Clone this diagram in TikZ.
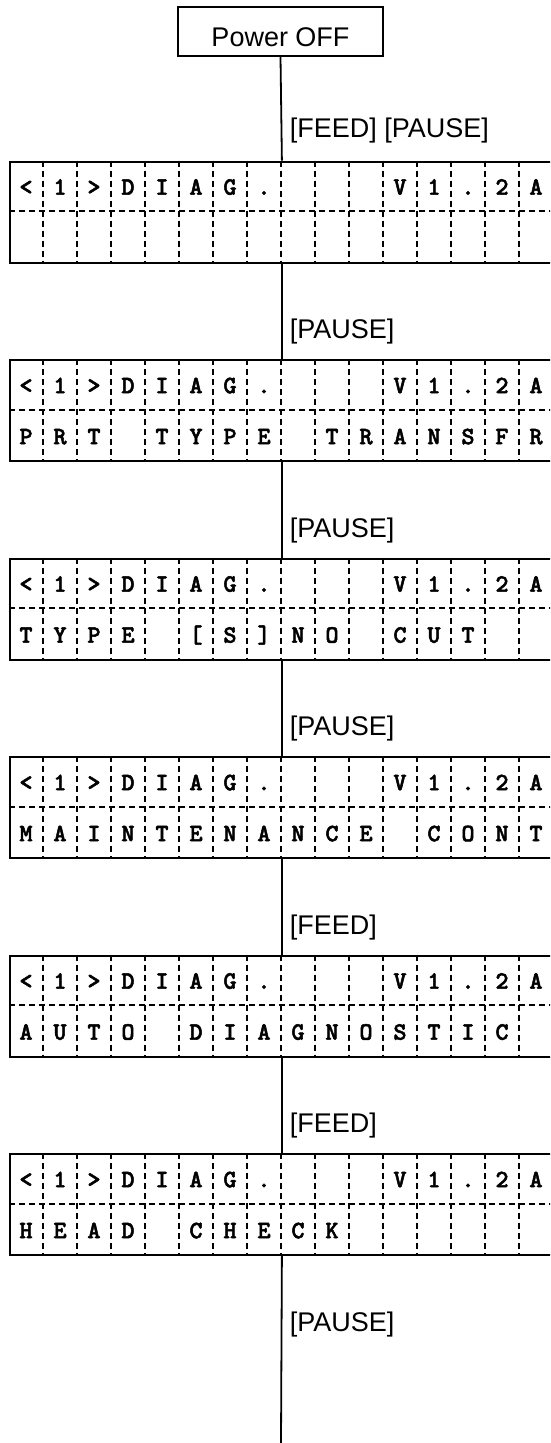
\documentclass[tikz,border=0pt]{standalone}
\usepackage{fontspec}
\setmainfont{Liberation Sans}
\newfontfamily\lcdfont{lmmonolt10-bold.otf}[FakeBold=2]
\newcommand{\lcdrow}[2]{%
  \foreach \c [count=\n from 0] in {#2}{
    \node[lcdchar] at (26+34*\n,#1) {\c};
  }}
\begin{document}
\begin{tikzpicture}[x=1pt,y=-1pt,line width=1.8pt,
  lcdbox/.style={draw,line width=1.8pt,minimum width=544pt,minimum height=101pt,inner sep=0pt,anchor=north west},
  keylabel/.style={font=\fontsize{27}{30}\selectfont,anchor=base west,inner sep=0pt},
  lcdchar/.style={font=\lcdfont\fontsize{25}{28}\selectfont,anchor=base,inner sep=0pt},
  celldash/.style={line width=1.6pt,dash pattern=on 6pt off 4pt},
  flow/.style={line width=1.8pt}]
\clip (0,0) rectangle (550,1443);
\fill[white] (0,0) rectangle (550,1443);
\node[draw,line width=1.8pt,minimum width=205pt,minimum height=49pt,inner sep=0pt,
  text height=30.4pt,text depth=0pt,font=\fontsize{27}{30}\selectfont] (power) at (280.5,31.5) {Power OFF};
\foreach \i/\t in {1/160.7,2/359.2,3/557.7,4/756.2,5/954.7,6/1153.2}{
  \node[lcdbox] (b\i) at (9,\t) {};
  \draw[celldash] (9,\t+50.5) -- (553,\t+50.5);
  \foreach \k in {1,...,15}{
    \draw[celldash] (9+34*\k,\t) -- (9+34*\k,\t+101);
  }
  \lcdrow{\t+34}{<,1,>,D,I,A,G,.,{},{},{},V,1,.,2,A}
}
\lcdrow{359.2+85}{P,R,T,{},T,Y,P,E,{},T,R,A,N,S,F,R}
\lcdrow{557.7+85}{T,Y,P,E,{},[,S,],N,O,{},C,U,T,{},{}}
\lcdrow{756.2+85}{M,A,I,N,T,E,N,A,N,C,E,{},C,O,N,T}
\lcdrow{954.7+85}{A,U,T,O,{},D,I,A,G,N,O,S,T,I,C,{}}
\lcdrow{1153.2+85}{H,E,A,D,{},C,H,E,C,K,{},{},{},{},{},{}}
\coordinate (end) at (281,1443);
\draw[flow] (power.south) -- (b1.north);
\draw[flow] (b1.south) -- (b2.north);
\draw[flow] (b2.south) -- (b3.north);
\draw[flow] (b3.south) -- (b4.north);
\draw[flow] (b4.south) -- (b5.north);
\draw[flow] (b5.south) -- (b6.north);
\draw[flow] (b6.south) -- (end);
\node[keylabel] (l1) at (289,137) {[FEED] [PAUSE]};
\node[keylabel] (l2) at (289,338.5) {[PAUSE]};
\node[keylabel] (l3) at (289,537) {[PAUSE]};
\node[keylabel] (l4) at (289,735.5) {[PAUSE]};
\node[keylabel] (l5) at (289,934) {[FEED]};
\node[keylabel] (l6) at (289,1132.5) {[FEED]};
\node[keylabel] (l7) at (289,1331.5) {[PAUSE]};
\end{tikzpicture}
\end{document}
